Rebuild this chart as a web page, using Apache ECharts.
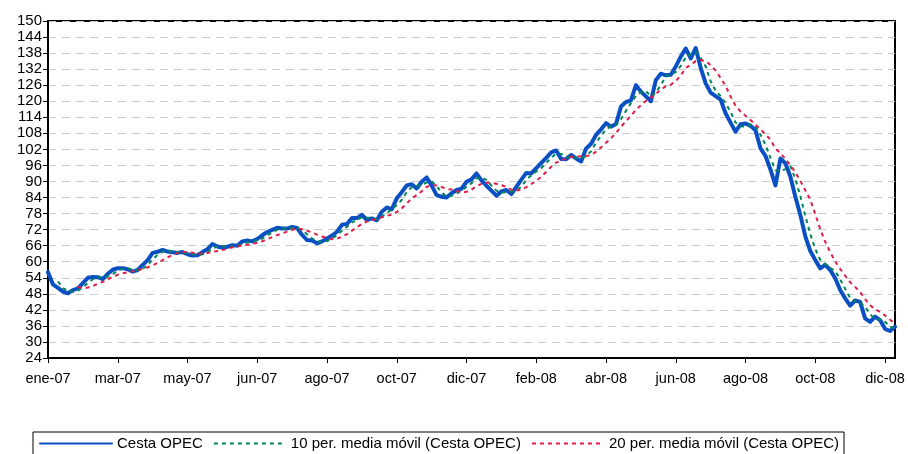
<!DOCTYPE html>
<html>
<head>
<meta charset="utf-8">
<title>Cesta OPEC</title>
<script src="https://cdn.jsdelivr.net/npm/echarts@6/dist/echarts.min.js"></script>
<style>
  html, body { margin: 0; padding: 0; background: #fff; }
  #chart { width: 908px; height: 454px; }
</style>
</head>
<body>
<div id="chart"></div>
<script>
// one point every 3 trading days, ticks every 14 points (~42 days)
const tickLabels = ['ene-07', 'mar-07', 'may-07', 'jun-07', 'ago-07', 'oct-07', 'dic-07',
  'feb-08', 'abr-08', 'jun-08', 'ago-08', 'oct-08', 'dic-08'];
const pointsPerTick = 14;

const cestaOpec = [
  56.1, 51.5, 50.2, 48.8, 48.2, 49.4, 50.0, 52.0, 54.0, 54.3,
  54.2, 53.5, 55.5, 57.0, 57.6, 57.6, 57.2, 56.3, 56.9, 58.8,
  60.6, 63.3, 63.7, 64.4, 63.8, 63.5, 63.3, 63.6, 62.8, 62.3,
  62.4, 63.6, 64.7, 66.6, 65.7, 65.2, 65.6, 66.2, 66.0, 67.6,
  67.9, 67.6, 68.5, 69.9, 71.1, 71.9, 72.7, 72.4, 72.4, 73.0,
  72.6, 70.0, 68.1, 67.9, 66.9, 67.6, 68.7, 69.8, 71.2, 73.8,
  74.1, 76.3, 76.3, 77.5, 75.6, 76.2, 75.5, 78.7, 80.3, 79.6,
  83.7, 86.0, 88.5, 89.0, 87.4, 89.9, 91.5, 88.5, 84.9, 84.3,
  84.0, 85.6, 86.8, 87.3, 89.9, 90.8, 93.0, 90.4, 88.4, 86.6,
  84.7, 86.3, 86.8, 85.3, 88.0, 90.7, 93.2, 93.0, 95.0, 96.9,
  98.8, 100.9, 101.6, 98.4, 98.3, 99.9, 98.6, 97.5, 102.3, 104.1,
  107.4, 109.5, 111.8, 110.5, 111.5, 118.0, 119.7, 120.3, 126.0, 123.6,
  121.8, 120.0, 127.9, 130.3, 129.7, 129.9, 133.0, 136.7, 139.7, 136.0,
  139.9, 132.5, 126.7, 123.2, 121.9, 120.6, 115.5, 112.0, 108.6, 111.4,
  111.7, 110.8, 109.2, 102.4, 99.6, 94.5, 88.5, 98.6, 96.8, 91.8,
  84.3, 77.5, 69.5, 64.0, 60.6, 57.5, 58.8, 56.9, 53.8, 49.4,
  46.3, 43.6, 45.5, 45.0, 38.8, 37.5, 39.5, 38.2, 34.9, 34.1,
  35.7
];

// moving average over n sampled points (10 days ~ 3 points, 20 days ~ 7 points)
function movingAverage(values, n) {
  const out = [];
  for (let i = 0; i < values.length; i++) {
    if (i < n - 1) continue;
    let sum = 0;
    for (let j = i - n + 1; j <= i; j++) sum += values[j];
    out.push([i, sum / n]);
  }
  return out;
}

const FONT = '"Liberation Sans", Arial, sans-serif';

const chart = echarts.init(document.getElementById('chart'), null, { renderer: 'canvas' });

chart.setOption({
  animation: false,
  backgroundColor: '#fff',
  textStyle: { fontFamily: FONT, color: '#000' },
  grid: {
    left: 48, right: 13, top: 21, bottom: 96,
    show: true, borderColor: '#000', borderWidth: 2, backgroundColor: 'transparent'
  },
  legend: {
    left: 33, top: 432,
    padding: [4, 5, 6, 6],
    itemGap: 10,
    itemWidth: 72,
    itemHeight: 12,
    borderColor: '#000',
    borderWidth: 1,
    backgroundColor: '#fff',
    itemStyle: { opacity: 0 },
    textStyle: { fontFamily: FONT, fontSize: 15, color: '#000' },
    data: ['Cesta OPEC', '10 per. media móvil (Cesta OPEC)', '20 per. media móvil (Cesta OPEC)']
  },
  xAxis: {
    type: 'value',
    min: 0,
    max: cestaOpec.length - 1,
    interval: pointsPerTick,
    axisLine: { show: true, lineStyle: { color: '#000', width: 2 } },
    axisTick: { show: true, inside: false, length: 5, lineStyle: { color: '#000' } },
    axisLabel: {
      fontFamily: FONT, fontSize: 14.5, color: '#000', margin: 13,
      showMaxLabel: false,
      formatter: function (v) {
        if (v % pointsPerTick !== 0) return '';
        return tickLabels[v / pointsPerTick] || '';
      }
    },
    splitLine: { show: false }
  },
  yAxis: {
    type: 'value',
    min: 24,
    max: 150,
    interval: 6,
    axisLine: { show: true, lineStyle: { color: '#000', width: 2 } },
    axisTick: { show: true, inside: false, length: 5, lineStyle: { color: '#000' } },
    axisLabel: { fontFamily: FONT, fontSize: 15, color: '#000', margin: 6 },
    splitLine: { show: true, lineStyle: { color: '#c8cccc', width: 1, type: [8, 6] } }
  },
  series: [
    {
      name: 'Cesta OPEC',
      type: 'line',
      data: cestaOpec.map((v, i) => [i, v]),
      symbol: 'none',
      color: '#0a50c4',
      lineStyle: { color: '#0a50c4', width: 4, join: 'round', cap: 'round' }
    },
    {
      name: '10 per. media móvil (Cesta OPEC)',
      type: 'line',
      data: movingAverage(cestaOpec, 3),
      symbol: 'none',
      color: '#00845a',
      lineStyle: { color: '#00845a', width: 2, type: [4, 4] }
    },
    {
      name: '20 per. media móvil (Cesta OPEC)',
      type: 'line',
      data: movingAverage(cestaOpec, 7),
      symbol: 'none',
      color: '#e01e48',
      lineStyle: { color: '#e01e48', width: 2, type: [4, 4] }
    }
  ]
});
</script>
</body>
</html>
